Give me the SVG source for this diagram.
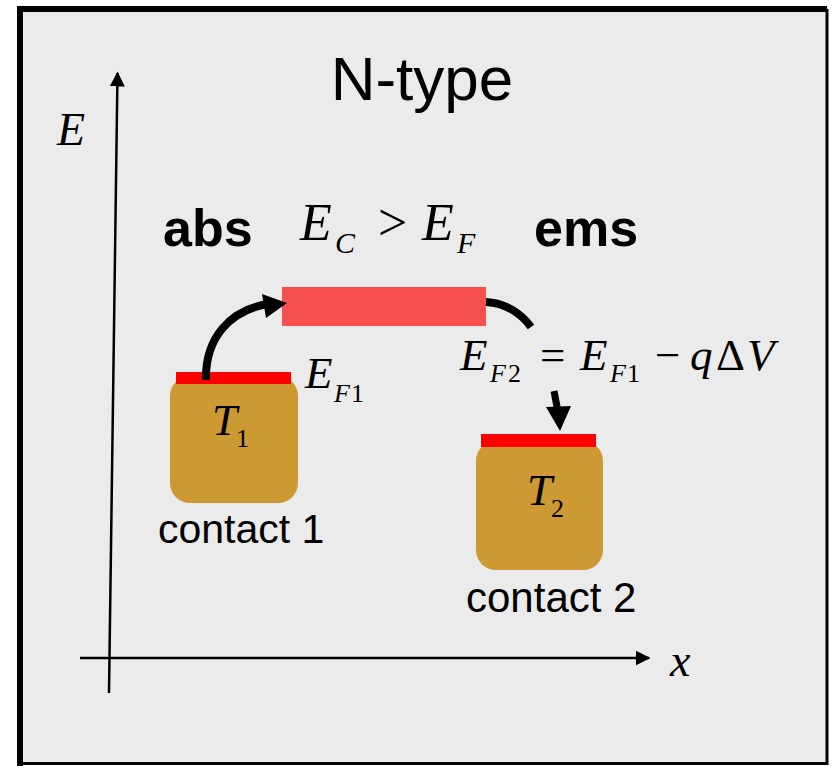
<svg xmlns="http://www.w3.org/2000/svg" width="833" height="766" viewBox="0 0 833 766">
<defs>
<style>
.sans{font-family:"Liberation Sans",Arial,sans-serif;fill:#000}
.bold{font-weight:bold}
.math{font-family:"Liberation Serif","Times New Roman",serif;fill:#000}
.it{font-style:italic}
.box{fill:#cc9933}
.fermi{fill:#ff0000}
.thick{fill:none;stroke:#000;stroke-width:8}
.axis{fill:none;stroke:#000;stroke-width:2.5}
</style>
<marker id="ah" viewBox="0 0 10 10" refX="9" refY="5" markerWidth="6" markerHeight="6" markerUnits="strokeWidth" orient="auto">
<path d="M0,0 L10,5 L0,10 z" fill="#000"/>
</marker>
</defs>
<rect x="0" y="0" width="833" height="766" fill="#ffffff"/>
<rect x="20" y="9" width="807" height="754" fill="#ebebeb"/>
<path d="M20,766 L20,9 L827,9" fill="none" stroke="#000" stroke-width="6"/>
<path d="M827,9 L827,763.5 L17,763.5" fill="none" stroke="#000" stroke-width="3"/>

<g id="axes">
<line x1="109" y1="693" x2="117.5" y2="73" class="axis" marker-end="url(#ah)"/>
<line x1="80" y1="658" x2="649" y2="658" class="axis" marker-end="url(#ah)"/>
<text x="57" y="145" class="math it" font-size="46">E</text>
<text x="670" y="676" class="math it" font-size="46">x</text>
</g>

<g id="title">
<text x="422" y="100" class="sans" font-size="62" text-anchor="middle">N-type</text>
</g>

<g id="labels">
<text x="163" y="246" class="sans bold" font-size="52">abs</text>
<text x="534" y="246" class="sans bold" font-size="52">ems</text>
<text x="300" y="240" class="math it" font-size="52">E</text>
<text x="335" y="253" class="math it" font-size="30">C</text>
<text x="378" y="240" class="math" font-size="52">&gt;</text>
<text x="422" y="240" class="math it" font-size="52">E</text>
<text x="457" y="253" class="math it" font-size="30">F</text>
</g>

<g id="conduction-band">
<rect x="282" y="287" width="204" height="39" fill="#f85050"/>
</g>

<g id="contact1">
<rect x="170" y="376" width="128" height="127" rx="20" class="box"/>
<rect x="176" y="372" width="115" height="12" class="fermi"/>
<text x="212" y="435" class="math it" font-size="45">T</text>
<text x="236" y="447" class="math" font-size="26">1</text>
<text x="158" y="543" class="sans" font-size="41">contact 1</text>
<text x="305" y="388" class="math it" font-size="45">E</text>
<text x="334" y="402" class="math it" font-size="26">F</text>
<text x="351" y="402" class="math" font-size="26">1</text>
</g>

<g id="contact2">
<rect x="476" y="441" width="127" height="129" rx="20" class="box"/>
<rect x="481" y="434" width="115" height="13" class="fermi"/>
<text x="527" y="505" class="math it" font-size="45">T</text>
<text x="551" y="517" class="math" font-size="26">2</text>
<text x="466" y="612" class="sans" font-size="42">contact 2</text>
</g>

<g id="ef2-label">
<text x="460" y="370" class="math it" font-size="45">E</text>
<text x="490" y="382" class="math it" font-size="26">F</text>
<text x="508" y="382" class="math" font-size="26">2</text>
<text x="540" y="370" class="math" font-size="45">=</text>
<text x="580" y="370" class="math it" font-size="45">E</text>
<text x="610" y="382" class="math it" font-size="26">F</text>
<text x="627" y="382" class="math" font-size="26">1</text>
<text x="655" y="370" class="math" font-size="45">−</text>
<text x="690" y="370" class="math it" font-size="45">q</text>
<text x="716" y="370" class="math" font-size="45">Δ</text>
<text x="747" y="370" class="math it" font-size="45">V</text>
</g>

<g id="connectors">
<path d="M206,380 C205,338 230,310 268,304" class="thick"/>
<polygon points="287,303 262,294 266,318" fill="#000"/>
<path d="M486,302 C505,303 521,313 531,327" class="thick"/>
<line x1="554" y1="391" x2="558" y2="412" stroke="#000" stroke-width="7"/>
<polygon points="546,407 571,406 560,431" fill="#000"/>
</g>
</svg>
